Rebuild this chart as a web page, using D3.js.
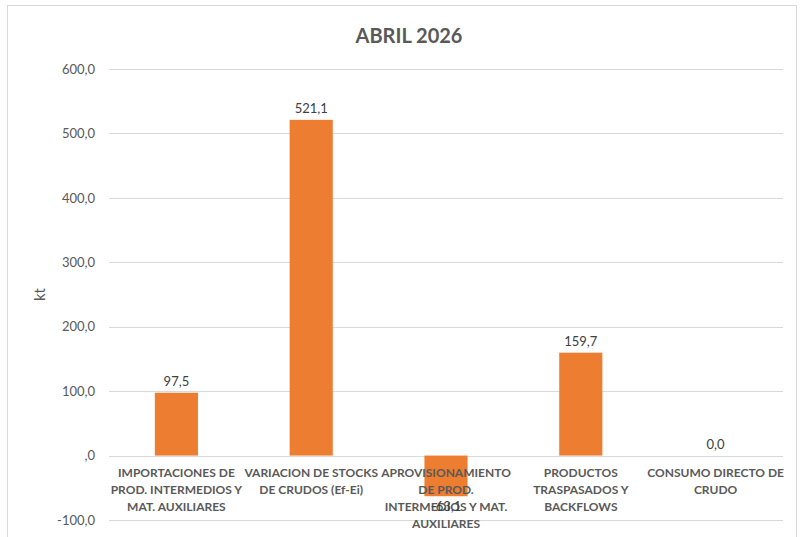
<!DOCTYPE html>
<html>
<head>
<meta charset="utf-8">
<script src="https://cdn.jsdelivr.net/npm/d3@7"></script>
<style>
  body { margin: 0; background: #fff; }
  svg { font-family: Lato, "Open Sans", sans-serif; }
</style>
</head>
<body>
<div id="chart"></div>
<script>
const title = 'ABRIL 2026';
const yLabel = 'kt';
const categories = [
  ['IMPORTACIONES DE', 'PROD. INTERMEDIOS Y', 'MAT. AUXILIARES'],
  ['VARIACION DE STOCKS', 'DE CRUDOS (Ef-Ei)'],
  ['APROVISIONAMIENTO', 'DE PROD.', 'INTERMEDIOS Y MAT.', 'AUXILIARES'],
  ['PRODUCTOS', 'TRASPASADOS Y', 'BACKFLOWS'],
  ['CONSUMO DIRECTO DE', 'CRUDO']
];
const values = [97.5, 521.1, -63.1, 159.7, 0.0];
const yTicks = [-100, 0, 100, 200, 300, 400, 500, 600];

const width = 800;
const height = 537;
const margin = { top: 69, right: 17, bottom: 17, left: 109 };

// spanish style: comma as decimal mark
const fmt = v => (v < 0 ? '-' : '') + Math.abs(v).toFixed(1).replace('.', ',');
const tickFmt = v => v === 0 ? ',0' : fmt(v);

const svg = d3.select('#chart').append('svg')
  .attr('width', width)
  .attr('height', height);

// chart frame
svg.append('rect')
  .attr('x', 7.5).attr('y', 5.5)
  .attr('width', width - 11).attr('height', height)
  .attr('fill', 'none')
  .attr('stroke', '#d9d9d9');

const x = d3.scaleBand()
  .domain(d3.range(categories.length))
  .range([margin.left, width - margin.right])
  .paddingInner(0.68)
  .paddingOuter(0.34);

const y = d3.scaleLinear()
  .domain([-100, 600])
  .range([height - margin.bottom, margin.top]);

// gridlines
svg.append('g')
  .selectAll('line')
  .data(yTicks)
  .join('line')
  .attr('x1', margin.left)
  .attr('x2', width - margin.right)
  .attr('y1', d => Math.round(y(d)) + 0.5)
  .attr('y2', d => Math.round(y(d)) + 0.5)
  .attr('stroke', '#d9d9d9')
  .attr('stroke-width', 1);

// y tick labels
const yAxis = d3.axisLeft(y).tickValues(yTicks).tickFormat(tickFmt).tickSize(0).tickPadding(14);
svg.append('g')
  .attr('transform', `translate(${margin.left},0)`)
  .call(yAxis)
  .call(g => g.select('.domain').remove())
  .selectAll('text')
  .attr('fill', '#595959')
  .attr('font-size', 13)
  .attr('font-family', 'Lato, sans-serif');

// bars
svg.append('g')
  .selectAll('rect')
  .data(values)
  .join('rect')
  .attr('x', (d, i) => x(i))
  .attr('width', x.bandwidth())
  .attr('y', d => y(Math.max(0, d)))
  .attr('height', d => Math.abs(y(d) - y(0)))
  .attr('fill', '#ed7d31');

// category labels
const cat = svg.append('g')
  .selectAll('text')
  .data(categories)
  .join('text')
  .attr('x', (d, i) => x(i) + x.bandwidth() / 2)
  .attr('y', y(0) + 21)
  .attr('text-anchor', 'middle')
  .attr('font-size', 12)
  .attr('font-weight', 'bold')
  .attr('fill', '#595959');
cat.selectAll('tspan')
  .data(d => d)
  .join('tspan')
  .attr('x', function () { return this.parentNode.getAttribute('x'); })
  .attr('dy', (d, i) => i === 0 ? 0 : 17)
  .text(d => d);

// data labels
svg.append('g')
  .selectAll('text')
  .data(values)
  .join('text')
  .attr('x', (d, i) => x(i) + x.bandwidth() / 2)
  .attr('y', d => d >= 0 ? y(d) - 7 : y(d) + 15)
  .attr('text-anchor', 'middle')
  .attr('font-size', 13)
  .attr('fill', '#404040')
  .text(d => fmt(d));

// title
svg.append('text')
  .attr('x', 409)
  .attr('y', 43)
  .attr('text-anchor', 'middle')
  .attr('font-size', 20)
  .attr('font-weight', 'bold')
  .attr('fill', '#595959')
  .text(title);

// y axis label
svg.append('text')
  .attr('transform', `translate(45,${(y(600) + y(-100)) / 2}) rotate(-90)`)
  .attr('text-anchor', 'middle')
  .attr('font-size', 15)
  .attr('fill', '#595959')
  .text(yLabel);
</script>
</body>
</html>
